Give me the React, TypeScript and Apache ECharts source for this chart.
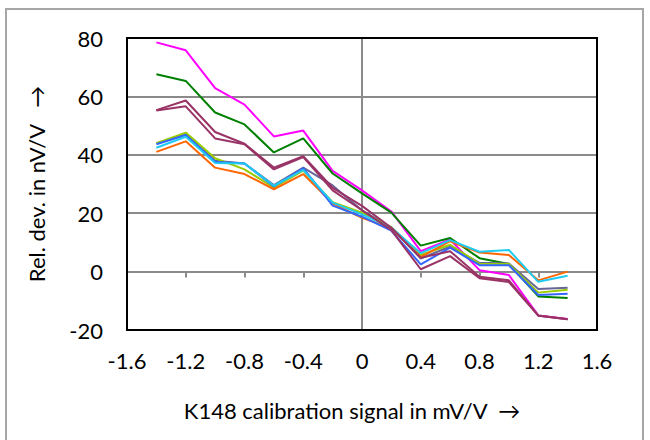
import React, { useEffect, useRef } from "react";
import * as echarts from "echarts";

const xValues = [-1.4, -1.2, -1.0, -0.8, -0.6, -0.4, -0.2, 0, 0.2, 0.4, 0.6, 0.8, 1.0, 1.2, 1.4];

const magenta = [78.5, 75.8, 62.8, 57.2, 46.3, 48.3, 34.5, 27.8, 20.6, 7.0, 11.0, 0.5, -1.2, -15.0, -16.2];
const green = [67.6, 65.3, 54.5, 50.4, 40.8, 45.6, 33.6, 26.8, 20.2, 8.9, 11.5, 4.6, 2.6, -8.5, -9.0];
const grayPurple = [44.0, 47.0, 38.0, 37.0, 29.6, 35.6, 29.5, 21.0, 15.0, 4.5, 8.6, 3.0, 2.8, -6.0, -5.5];
const yellowGreen = [44.0, 47.6, 38.8, 35.0, 28.8, 34.6, 23.8, 20.2, 15.2, 5.7, 9.2, 2.7, 2.6, -7.2, -6.2];
const orange = [41.0, 44.6, 35.6, 33.4, 28.2, 33.4, 23.4, 18.4, 14.8, 5.0, 10.4, 6.5, 5.7, -3.0, 0.0];
const blue = [43.6, 46.8, 37.6, 37.0, 29.2, 35.4, 22.6, 18.8, 14.0, 2.5, 8.2, 2.2, 2.2, -8.0, -7.6];
const cyan = [42.4, 46.2, 37.2, 37.0, 29.4, 34.8, 23.6, 19.6, 15.0, 6.3, 10.8, 6.8, 7.4, -3.5, -1.4];
const maroonA = [55.3, 58.6, 47.8, 43.8, 35.6, 39.5, 28.7, 22.5, 15.0, 4.7, 7.0, -1.8, -3.0, -15.0, -16.3];
const maroonB = [55.2, 56.6, 45.6, 43.6, 35.0, 39.2, 27.8, 21.0, 14.2, 0.8, 5.3, -2.3, -3.6, -15.1, -16.3];

const seriesList = [
  { name: "S1", data: magenta, color: "#FF00FF" },
  { name: "S2", data: green, color: "#008000" },
  { name: "S3", data: grayPurple, color: "#666699" },
  { name: "S4", data: yellowGreen, color: "#99CC00" },
  { name: "S5", data: orange, color: "#FF6600" },
  { name: "S6", data: blue, color: "#3366FF" },
  { name: "S7", data: cyan, color: "#1FCBF2" },
  { name: "S8", data: maroonA, color: "#993366" },
  { name: "S9", data: maroonB, color: "#993366" },
];

const xTickValues = [-1.2, -0.8, -0.4, 0, 0.4, 0.8, 1.2];

const xAxisTitle = "K148 calibration signal in mV/V  \u2192";
const yAxisTitle = "Rel. dev. in nV/V   \u2192";

const GRID = { left: 127, top: 38, right: 53, bottom: 110 };
const W = 650;
const H = 440;
const FONT = "Lato";
const FS = 22;
const GRAY = "#8a8a8a";

export default function App() {
  const ref = useRef<HTMLDivElement>(null);

  useEffect(() => {
    if (!ref.current) return;
    const chart = echarts.init(ref.current, undefined, { renderer: "svg" });
    const fmt = (v: number) => String(Math.round(v * 10) / 10);
    const option: any = {
      animation: false,
      textStyle: { fontFamily: FONT },
      grid: { ...GRID, containLabel: false },
      xAxis: [
        {
          type: "value",
          min: -1.6,
          max: 1.6,
          interval: 0.4,
          position: "bottom",
          axisLine: { show: false },
          axisTick: { show: false },
          splitLine: { show: false },
          axisLabel: { show: true, margin: 19, fontSize: FS, color: "#000", fontFamily: FONT, formatter: fmt },
          name: xAxisTitle,
          nameLocation: "middle",
          nameGap: 69,
          nameTextStyle: { fontSize: FS, color: "#000", fontFamily: FONT, padding: [0, 20, 0, 0] },
        },
        {
          type: "value",
          min: -1.6,
          max: 1.6,
          interval: 0.4,
          position: "bottom",
          axisLine: { show: true, onZero: true, lineStyle: { color: GRAY, width: 2 } },
          axisTick: { show: true, length: 6, inside: false, customValues: xTickValues, lineStyle: { color: GRAY, width: 2 } },
          axisLabel: { show: false },
          splitLine: { show: false },
        },
      ],
      yAxis: [
        {
          type: "value",
          min: -20,
          max: 80,
          interval: 20,
          position: "left",
          axisLine: { show: false },
          axisTick: { show: false },
          splitLine: { show: true, lineStyle: { color: GRAY, width: 2 } },
          axisLabel: { show: true, margin: 24, fontSize: FS, color: "#000", fontFamily: FONT },
          name: yAxisTitle,
          nameLocation: "middle",
          nameGap: 80,
          nameTextStyle: { fontSize: FS, color: "#000", fontFamily: FONT },
        },
        {
          type: "value",
          min: -20,
          max: 80,
          interval: 20,
          position: "left",
          axisLine: { show: true, onZero: true, lineStyle: { color: GRAY, width: 2 } },
          axisTick: { show: false },
          axisLabel: { show: false },
          splitLine: { show: false },
        },
      ],
      graphic: [
        {
          type: "rect",
          silent: true,
          z: -10,
          shape: { x: 6, y: 9, width: 637, height: 440 },
          style: { fill: "none", stroke: "#a6a6a6", lineWidth: 2 },
        },
        {
          type: "rect",
          silent: true,
          z: 100,
          shape: {
            x: GRID.left,
            y: GRID.top,
            width: W - GRID.left - GRID.right,
            height: H - GRID.top - GRID.bottom,
          },
          style: { fill: "none", stroke: "#000", lineWidth: 2 },
        },
      ],
      series: seriesList.map((s) => ({
        name: s.name,
        type: "line",
        xAxisIndex: 0,
        yAxisIndex: 0,
        symbol: "none",
        silent: true,
        lineStyle: { color: s.color, width: 2 },
        itemStyle: { color: s.color },
        data: xValues.map((x, i) => [x, s.data[i]]),
      })),
    };
    chart.setOption(option);
    return () => chart.dispose();
  }, []);

  return (
    <div
      ref={ref}
      style={{ position: "absolute", left: 0, top: 0, width: W, height: H, background: "#fff" }}
    />
  );
}
